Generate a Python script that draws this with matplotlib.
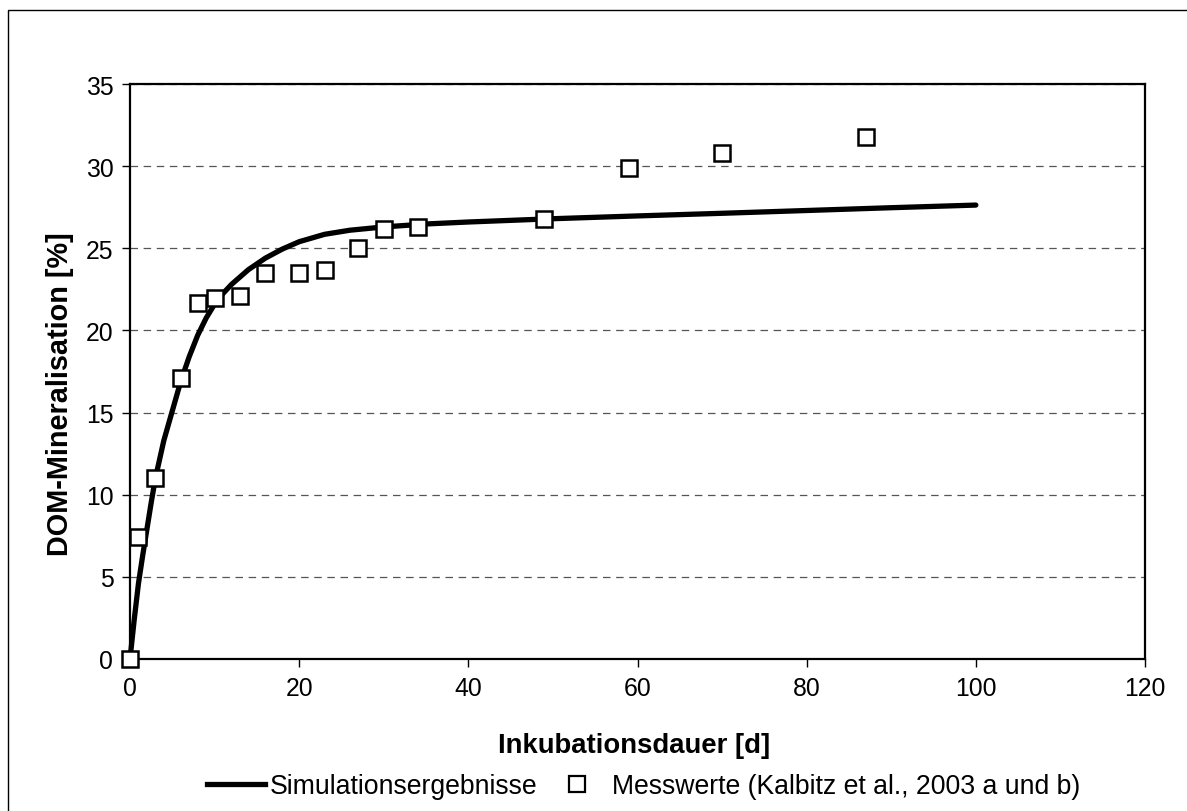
import matplotlib
matplotlib.use("Agg")
import matplotlib.pyplot as plt
from matplotlib.lines import Line2D
from matplotlib.patches import Rectangle

plt.rcParams['font.family'] = ['Liberation Sans', 'DejaVu Sans']

# Simulation curve
sim_days = [0, 0.5, 1, 1.5, 2, 2.5, 3, 4, 5, 6, 7, 8, 9, 10, 11, 12, 14, 16, 18, 20, 23,
            26, 30, 35, 40, 50, 60, 70, 80, 90, 100]
sim_values = [0, 2.4, 4.6, 6.3, 7.9, 9.5, 11.0, 13.3, 15.1, 16.9, 18.4, 19.7, 20.75, 21.6,
              22.25, 22.8, 23.7, 24.4, 24.95, 25.4, 25.85, 26.1, 26.3, 26.48, 26.6, 26.8,
              26.97, 27.13, 27.3, 27.47, 27.63]

# Measured values
meas_days = [0, 1, 3, 6, 8, 10, 13, 16, 20, 23, 27, 30, 34, 49, 59, 70, 87]
meas_values = [0, 7.4, 11.0, 17.1, 21.7, 22.0, 22.1, 23.5, 23.5, 23.7, 25.0, 26.2,
               26.3, 26.8, 29.9, 30.8, 31.8]

x_ticks = [0, 20, 40, 60, 80, 100, 120]
y_ticks = [0, 5, 10, 15, 20, 25, 30, 35]

W, H = 1187, 812
fig = plt.figure(figsize=(W / 100, H / 100), dpi=100)
fig.patch.set_facecolor('white')

# outer chart frame
fig.patches.append(Rectangle((8 / W, -0.1), 1.2, 1 - 11 / H + 0.1, transform=fig.transFigure,
                             fill=False, edgecolor='black', linewidth=1.0, clip_on=False))

ax = fig.add_axes([130 / W, 1 - 660 / H, (1145 - 130) / W, (660 - 85) / H])
ax.set_xlim(0, 120)
ax.set_ylim(0, 35)
ax.set_xticks(x_ticks)
ax.set_yticks(y_ticks)
ax.tick_params(direction='out', length=6, width=1, labelsize=17.8, pad=6, color='black')
for s in ax.spines.values():
    s.set_linewidth(1.6)
    s.set_color('black')
ax.yaxis.grid(True, linestyle=(0, (6, 4.5)), color='#555555', linewidth=0.9)
ax.set_axisbelow(True)

ax.plot(sim_days, sim_values, color='black', linewidth=3.8, solid_capstyle='round',
        solid_joinstyle='round', zorder=3, clip_on=False)
ax.plot(meas_days, meas_values, linestyle='none', marker='s', markersize=11,
        markerfacecolor='white', markeredgecolor='black', markeredgewidth=1.8,
        zorder=4, clip_on=False)

fig.text(634 / W, 1 - 746 / H, 'Inkubationsdauer [d]', ha='center', va='center',
         fontsize=19.8, fontweight='bold')
fig.text(60 / W, 1 - 394 / H, 'DOM-Mineralisation [%]', ha='center', va='center',
         rotation=90, fontsize=20.8, fontweight='bold')

h1 = Line2D([], [], color='black', linewidth=3.8)
h2 = Line2D([], [], linestyle='none', marker='s', markersize=11, markerfacecolor='white',
            markeredgecolor='black', markeredgewidth=1.6)
leg1 = fig.legend([h1], ['Simulationsergebnisse'], loc='center left',
                  bbox_to_anchor=(207 / W, 1 - 787 / H), frameon=False, fontsize=19.2,
                  borderpad=0, borderaxespad=0, handlelength=2.17, handletextpad=0.19)
leg2 = fig.legend([h2], ['Messwerte (Kalbitz et al., 2003 a und b)'], loc='center left',
                  bbox_to_anchor=(563.5 / W, 1 - 787 / H), frameon=False, fontsize=19.2,
                  borderpad=0, borderaxespad=0, handlelength=1.0, handletextpad=0.81)

fig.savefig('out.png', dpi=100)
